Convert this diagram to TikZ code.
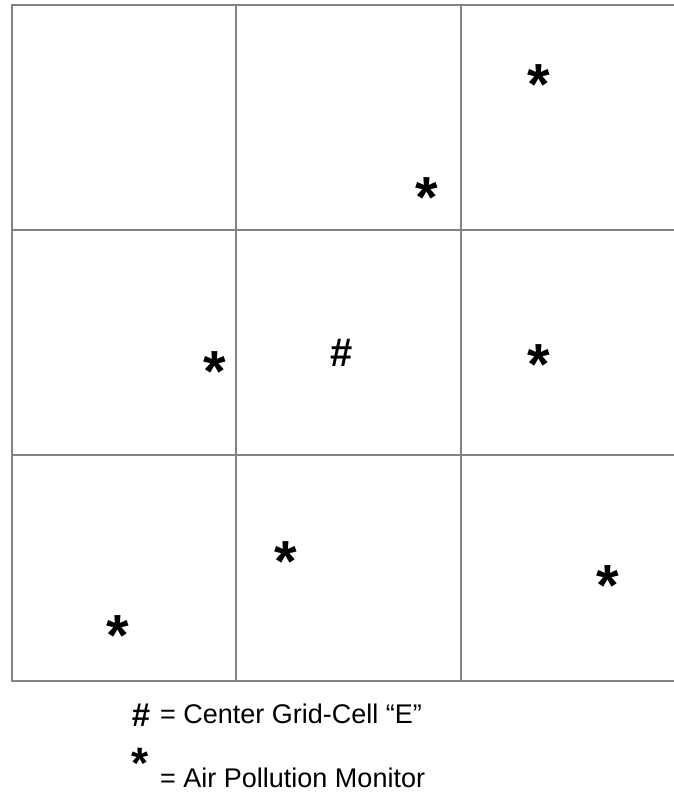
\documentclass[tikz,border=0pt]{standalone}
\usepackage{fontspec}
\setmainfont{Liberation Sans}
\definecolor{gridgray}{RGB}{130,130,130}
\begin{document}
\begin{tikzpicture}[x=1pt,y=-1pt,
  gridline/.style={gridgray,line width=2pt,line cap=rect},
  monitor/.style={inner sep=0pt,anchor=north,font=\fontsize{58}{58}\selectfont\bfseries},
  centre/.style={inner sep=0pt,font=\fontsize{40}{40}\selectfont\bfseries},
  legend/.style={inner sep=0pt,anchor=base west,font=\fontsize{27}{27}\selectfont}]
\useasboundingbox (0,0) rectangle (674,796);
\foreach \y in {4.5,229.5,454.5,680.5} \draw[gridline] (12,\y) -- (690,\y);
\foreach \x in {12,235.5,460.5} \draw[gridline] (\x,4.5) -- (\x,680.5);
\node[centre] (cellE) at (342,353) {\#};
\node[monitor] (monC) at (539,64) {*};
\node[monitor] (monB) at (427,177) {*};
\node[monitor] (monD) at (215,351) {*};
\node[monitor] (monF) at (539,344) {*};
\node[monitor] (monH) at (286,541) {*};
\node[monitor] (monI) at (608,565) {*};
\node[monitor] (monG) at (118,615) {*};
\node[centre,font=\fontsize{33}{33}\selectfont\bfseries] (keyhash) at (141,715) {\#};
\node[legend] (keyhashtext) at (160,723.5) {= Center Grid-Cell “E”};
\node[monitor,font=\fontsize{44}{44}\selectfont\bfseries] (keystar) at (140,748) {*};
\node[legend] (keystartext) at (160,787) {= Air Pollution Monitor};
\end{tikzpicture}
\end{document}
